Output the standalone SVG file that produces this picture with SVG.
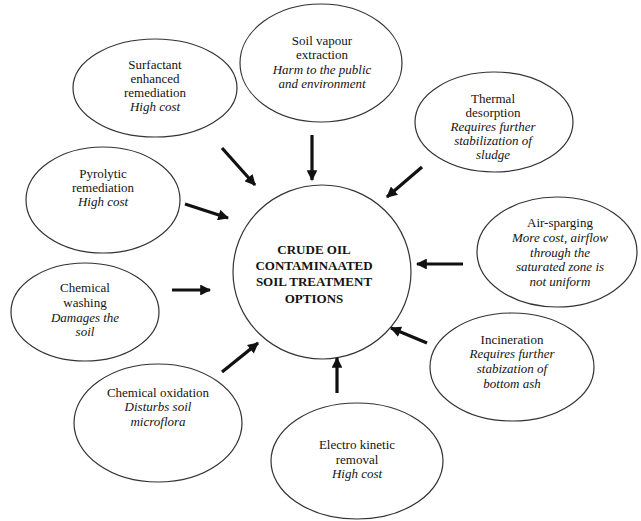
<svg xmlns="http://www.w3.org/2000/svg" width="641" height="521" viewBox="0 0 641 521">
<style>
.node ellipse{fill:#fff;stroke:#333;stroke-width:1.2}
text{font-family:"Liberation Serif","Times New Roman","DejaVu Serif",serif;font-size:13px;fill:#141414;text-anchor:middle}
.i{font-style:italic}
.b{font-weight:bold}
.conn line{stroke:#111;stroke-width:3.2;marker-end:url(#ah)}
</style>
<defs>
<marker id="ah" viewBox="0 0 10 10" refX="9" refY="5" markerWidth="3.6" markerHeight="3.4" orient="auto" markerUnits="strokeWidth">
<path d="M0,0 L10,5 L0,10 z" fill="#111"/>
</marker>
</defs>
<rect width="641" height="521" fill="#fff"/>
<g id="center" class="node">
<ellipse cx="322" cy="272" rx="89" ry="87"/>
<text class="b" x="314" y="254">CRUDE OIL</text>
<text class="b" x="314" y="270">CONTAMINAATED</text>
<text class="b" x="314" y="286">SOIL TREATMENT</text>
<text class="b" x="314" y="303">OPTIONS</text>
</g>
<g id="surfactant" class="node">
<ellipse cx="155" cy="88" rx="82" ry="49"/>
<text x="155" y="69">Surfactant</text>
<text x="155" y="83">enhanced</text>
<text x="155" y="97">remediation</text>
<text class="i" x="155" y="111">High cost</text>
</g>
<g id="soilvapour" class="node">
<ellipse cx="321" cy="63" rx="81" ry="59"/>
<text x="322" y="45">Soil vapour</text>
<text x="322" y="59">extraction</text>
<text class="i" x="322" y="74">Harm to the public</text>
<text class="i" x="322" y="88">and environment</text>
</g>
<g id="thermal" class="node">
<ellipse cx="494" cy="122" rx="79" ry="50"/>
<text x="493" y="103">Thermal</text>
<text x="493" y="117">desorption</text>
<text class="i" x="493" y="131">Requires further</text>
<text class="i" x="493" y="145">stabilization of</text>
<text class="i" x="493" y="159">sludge</text>
</g>
<g id="pyrolytic" class="node">
<ellipse cx="103" cy="200" rx="77" ry="53"/>
<text x="103" y="178">Pyrolytic</text>
<text x="103" y="192">remediation</text>
<text class="i" x="103" y="206">High cost</text>
</g>
<g id="airsparging" class="node">
<ellipse cx="557" cy="252" rx="80" ry="55"/>
<text x="560" y="227">Air-sparging</text>
<text class="i" x="560" y="242">More cost, airflow</text>
<text class="i" x="560" y="257">through the</text>
<text class="i" x="560" y="271">saturated zone is</text>
<text class="i" x="560" y="286">not uniform</text>
</g>
<g id="washing" class="node">
<ellipse cx="85" cy="312" rx="74" ry="49"/>
<text x="85" y="292">Chemical</text>
<text x="85" y="307">washing</text>
<text class="i" x="85" y="322">Damages the</text>
<text class="i" x="85" y="336">soil</text>
</g>
<g id="oxidation" class="node">
<ellipse cx="158" cy="423" rx="84" ry="59"/>
<text x="158" y="397">Chemical oxidation</text>
<text class="i" x="158" y="411">Disturbs soil</text>
<text class="i" x="158" y="426">microflora</text>
</g>
<g id="incineration" class="node">
<ellipse cx="512" cy="367" rx="82" ry="54"/>
<text x="512" y="344">Incineration</text>
<text class="i" x="512" y="358">Requires further</text>
<text class="i" x="512" y="373">stabization of</text>
<text class="i" x="512" y="388">bottom ash</text>
</g>
<g id="electrokinetic" class="node">
<ellipse cx="357" cy="461" rx="86" ry="58"/>
<text x="357" y="449">Electro kinetic</text>
<text x="357" y="464">removal</text>
<text class="i" x="357" y="478">High cost</text>
</g>
<g id="connectors" class="conn">
<line x1="222" y1="148" x2="255" y2="185"/>
<line x1="312" y1="135" x2="312" y2="180"/>
<line x1="422" y1="167" x2="387" y2="197"/>
<line x1="185" y1="204" x2="228" y2="218"/>
<line x1="463" y1="264" x2="417" y2="264"/>
<line x1="172" y1="290" x2="210" y2="290"/>
<line x1="222" y1="372" x2="258" y2="343"/>
<line x1="427" y1="343" x2="391" y2="328"/>
<line x1="337" y1="393" x2="337" y2="358"/>
</g>
</svg>
